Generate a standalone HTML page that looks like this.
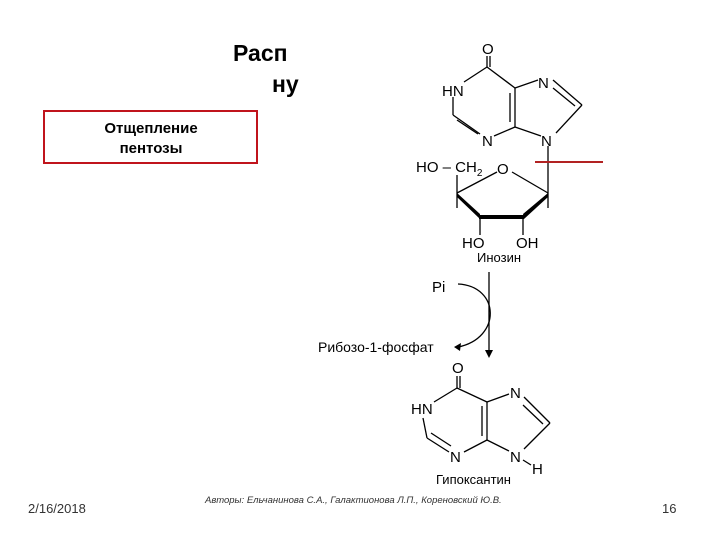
<!DOCTYPE html>
<html><head><meta charset="utf-8"><style>
html,body{margin:0;padding:0;background:#fff;width:720px;height:540px;overflow:hidden}
svg{display:block}
text{font-family:"Liberation Sans",Arial,sans-serif}
</style></head><body>
<svg width="720" height="540" viewBox="0 0 720 540" font-family="Liberation Sans, Arial, sans-serif">
<text x="233" y="61" font-size="23" font-weight="bold">Расп</text>
<text x="272" y="92" font-size="23" font-weight="bold">ну</text>
<rect x="44" y="111" width="213" height="52" fill="#fff" stroke="#c0141c" stroke-width="2"/>
<text x="151" y="133" font-size="15" font-weight="bold" text-anchor="middle">Отщепление</text>
<text x="151" y="153" font-size="15" font-weight="bold" text-anchor="middle">пентозы</text>

<g stroke="#000" stroke-width="1.3" fill="none">
<line x1="487" y1="56" x2="487" y2="67"/><line x1="490" y1="56" x2="490" y2="67"/>
<line x1="487" y1="67" x2="464" y2="82"/>
<line x1="487" y1="67" x2="515" y2="88"/>
<line x1="453" y1="97" x2="453" y2="115"/>
<line x1="453" y1="115" x2="480" y2="134"/><line x1="457" y1="120" x2="478" y2="134"/>
<line x1="494" y1="136" x2="515" y2="127"/>
<line x1="515" y1="88" x2="515" y2="127"/><line x1="510" y1="93" x2="510" y2="122"/>
<line x1="515" y1="88" x2="538" y2="80"/>
<line x1="553" y1="80" x2="582" y2="105"/><line x1="553" y1="88" x2="575" y2="106"/>
<line x1="582" y1="105" x2="556" y2="133"/>
<line x1="515" y1="127" x2="541" y2="136"/>
<line x1="548" y1="146" x2="548" y2="193"/>
<line x1="548" y1="193" x2="512" y2="172"/>
<line x1="497" y1="172" x2="457" y2="193"/>
<line x1="457" y1="175" x2="457" y2="208"/>
<line x1="548" y1="193" x2="548" y2="208"/>
<line x1="480" y1="217" x2="480" y2="235"/>
<line x1="523" y1="217" x2="523" y2="235"/>
<line x1="489" y1="272" x2="489" y2="352"/>
<path d="M458 284 C500 286 502 338 458 347"/>
</g>
<polygon points="457,193 480,214 480,219 457,197" fill="#000"/>
<line x1="479" y1="217" x2="524" y2="217" stroke="#000" stroke-width="4"/>
<polygon points="548,193 548,197 524,219 523,214" fill="#000"/>
<polygon points="485,350 493,350 489,358" fill="#000"/>
<polygon points="454,347 461,343 460,351" fill="#000"/>
<line x1="535" y1="162" x2="603" y2="162" stroke="#b22222" stroke-width="2"/>

<g font-size="15">
<text x="482" y="54">O</text>
<text x="442" y="96">HN</text>
<text x="538" y="88">N</text>
<text x="482" y="146">N</text>
<text x="541" y="146">N</text>
<text x="416" y="172">HO – CH<tspan font-size="10" dy="4">2</tspan></text>
<text x="497" y="174">O</text>
<text x="462" y="248">HO</text>
<text x="516" y="248">OH</text>
<text x="477" y="262" font-size="13">Инозин</text>
<text x="432" y="292">Pi</text>
<text x="318" y="352" font-size="14">Рибозо-1-фосфат</text>
<text x="452" y="373">O</text>
<text x="411" y="414">HN</text>
<text x="450" y="462">N</text>
<text x="510" y="398">N</text>
<text x="510" y="462">N</text>
<text x="532" y="474">H</text>
<text x="436" y="484" font-size="13">Гипоксантин</text>
</g>
<g stroke="#000" stroke-width="1.3" fill="none">
<line x1="457" y1="376" x2="457" y2="388"/><line x1="460" y1="376" x2="460" y2="388"/>
<line x1="457" y1="388" x2="434" y2="402"/>
<line x1="457" y1="388" x2="487" y2="402"/>
<line x1="423" y1="418" x2="427" y2="438"/>
<line x1="427" y1="438" x2="449" y2="452"/><line x1="431" y1="433" x2="451" y2="446"/>
<line x1="464" y1="452" x2="487" y2="440"/>
<line x1="487" y1="402" x2="487" y2="440"/><line x1="482" y1="406" x2="482" y2="436"/>
<line x1="487" y1="402" x2="509" y2="394"/>
<line x1="524" y1="397" x2="550" y2="423"/><line x1="523" y1="405" x2="543" y2="424"/>
<line x1="550" y1="423" x2="524" y2="449"/>
<line x1="487" y1="440" x2="509" y2="451"/>
<line x1="523" y1="460" x2="531" y2="465"/>
</g>

<text x="28" y="513" font-size="13" fill="#333">2/16/2018</text>
<text x="205" y="503" font-size="9.5" font-style="italic" fill="#333">Авторы: Ельчанинова С.А., Галактионова Л.П., Кореновский Ю.В.</text>
<text x="662" y="513" font-size="13" fill="#333">16</text>
</svg>
</body></html>
